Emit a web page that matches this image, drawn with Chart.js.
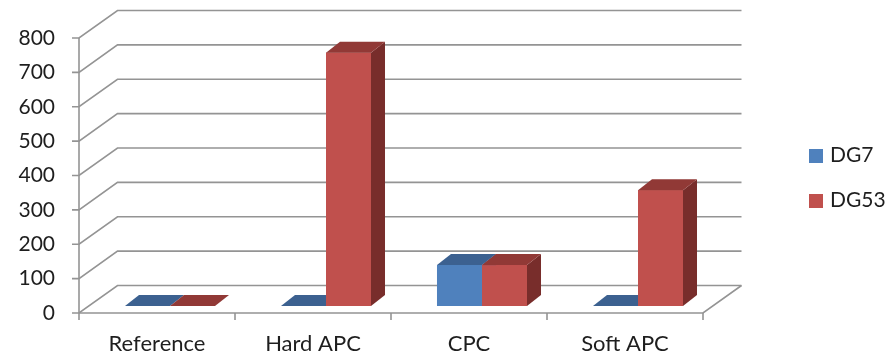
<!DOCTYPE html>
<html>
<head>
<meta charset="utf-8">
<script src="https://cdn.jsdelivr.net/npm/chart.js@4.4.1/dist/chart.umd.min.js"></script>
<style>
  html, body { margin: 0; padding: 0; background: #ffffff; }
  canvas { display: block; }
</style>
</head>
<body>
<canvas id="chart" width="894" height="357"></canvas>
<script>
// ---- data ----
const categories = ['Reference', 'Hard APC', 'CPC', 'Soft APC'];
const seriesNames = ['DG7', 'DG53'];
const dg7Values = [0, 0, 119, 0];
const dg53Values = [0, 737, 119, 337];
const yMin = 0;
const yMax = 800;
const yStep = 100;

// ---- look ----
const FRONT = ['#4F81BD', '#C0504D'];
const TOP = ['#3C6190', '#913936'];
const SIDE = ['#34557E', '#782D2B'];
const LINE = '#949494';
const TEXT = '#1e1e1e';
const FONT = "Lato, 'Open Sans', sans-serif";
const WALL = { dx: 38.5, dy: -27.5 };      // depth of the back wall
const BAR_SHIFT = { dx: 13, dy: -7 };      // bars stand a little inside the floor
const BAR_DEPTH = { dx: 14, dy: -11 };     // thickness of each column

const box3d = {
  id: 'box3d',
  beforeDatasetsDraw(chart) {
    const { ctx, chartArea: a, scales: { x, y } } = chart;
    const backRight = a.right + WALL.dx;
    ctx.save();
    ctx.strokeStyle = LINE;
    ctx.lineWidth = 1.6;
    ctx.lineCap = 'butt';
    // back-wall grid with side-wall diagonals and axis tick marks
    y.ticks.forEach(t => {
      const py = y.getPixelForValue(t.value);
      ctx.beginPath();
      ctx.moveTo(a.left - 7, py);
      ctx.lineTo(a.left, py);
      ctx.lineTo(a.left + WALL.dx, py + WALL.dy);
      ctx.lineTo(backRight, py + WALL.dy);
      ctx.stroke();
    });
    // floor outline
    const y0 = y.getPixelForValue(yMin);
    ctx.beginPath();
    ctx.moveTo(a.left, y0);
    ctx.lineTo(a.right, y0);
    ctx.lineTo(backRight, y0 + WALL.dy);
    ctx.stroke();
    // value axis line
    ctx.beginPath();
    ctx.moveTo(a.left, y.getPixelForValue(yMax));
    ctx.lineTo(a.left, y0);
    ctx.stroke();
    // category separators below the floor
    const half = (x.getPixelForValue(1) - x.getPixelForValue(0)) / 2;
    for (let i = 0; i <= categories.length; i++) {
      const px = i < categories.length ? x.getPixelForValue(i) - half : x.getPixelForValue(i - 1) + half;
      ctx.beginPath();
      ctx.moveTo(px, y0);
      ctx.lineTo(px, y0 + 7);
      ctx.stroke();
    }
    ctx.restore();
    ctx.save();
    ctx.translate(BAR_SHIFT.dx, BAR_SHIFT.dy);
  },
  afterDatasetsDraw(chart) {
    const ctx = chart.ctx;
    const metas = chart.data.datasets.map((d, i) => chart.getDatasetMeta(i));
    const dx = BAR_DEPTH.dx, dy = BAR_DEPTH.dy;
    categories.forEach((c, j) => {
      metas.forEach((m, i) => {
        const { x, y, base, width } = m.data[j].getProps(['x', 'y', 'base', 'width'], true);
        const l = x - width / 2, r = x + width / 2;
        if (base - y > 0) {
          ctx.fillStyle = FRONT[i];
          ctx.fillRect(l, y, width, base - y);
          ctx.fillStyle = SIDE[i];
          ctx.beginPath();
          ctx.moveTo(r, y);
          ctx.lineTo(r + dx, y + dy);
          ctx.lineTo(r + dx, base + dy);
          ctx.lineTo(r, base);
          ctx.closePath();
          ctx.fill();
        }
        ctx.fillStyle = TOP[i];
        ctx.beginPath();
        ctx.moveTo(l, y);
        ctx.lineTo(l + dx, y + dy);
        ctx.lineTo(r + dx, y + dy);
        ctx.lineTo(r, y);
        ctx.closePath();
        ctx.fill();
      });
    });
    ctx.restore();
  },
  afterDraw(chart) {
    // legend on the right
    const ctx = chart.ctx;
    ctx.save();
    ctx.font = '21px ' + FONT;
    ctx.textBaseline = 'alphabetic';
    ctx.textAlign = 'left';
    chart.data.datasets.forEach((d, i) => {
      const top = 149 + i * 45;
      ctx.fillStyle = d.backgroundColor;
      ctx.fillRect(809, top, 14, 14);
      ctx.fillStyle = TEXT;
      ctx.fillText(d.label, 830, top + 13);
    });
    ctx.restore();
  }
};

new Chart(document.getElementById('chart'), {
  type: 'bar',
  data: {
    labels: categories,
    datasets: [
      { label: seriesNames[0], data: dg7Values, backgroundColor: FRONT[0] },
      { label: seriesNames[1], data: dg53Values, backgroundColor: FRONT[1] }
    ]
  },
  options: {
    responsive: false,
    animation: false,
    events: [],
    devicePixelRatio: 1,
    layout: { padding: { top: 38, right: 191, bottom: 0, left: 0 } },
    datasets: { bar: { categoryPercentage: 0.577, barPercentage: 1, clip: false } },
    plugins: { legend: { display: false }, tooltip: { enabled: false } },
    scales: {
      x: {
        grid: { display: false, drawTicks: false },
        border: { display: false },
        ticks: { color: TEXT, font: { family: FONT, size: 22 }, padding: 18, maxRotation: 0 },
        afterFit(s) { s.height = 44; }
      },
      y: {
        min: yMin, max: yMax,
        grid: { display: false, drawTicks: false },
        border: { display: false },
        ticks: { stepSize: yStep, color: TEXT, font: { family: FONT, size: 21 }, padding: 24 },
        afterFit(s) { s.width = 79; }
      }
    }
  },
  plugins: [box3d]
});
</script>
</body>
</html>
